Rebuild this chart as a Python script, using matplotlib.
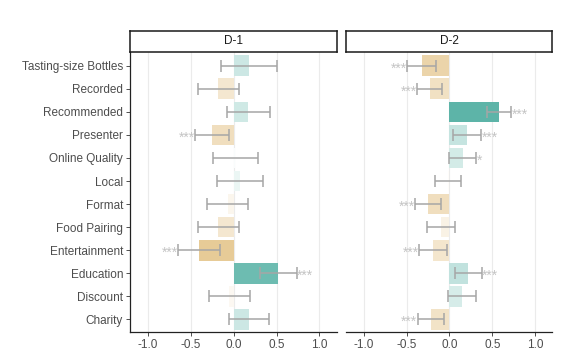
import numpy as np
import matplotlib
matplotlib.use("Agg")
import matplotlib.pyplot as plt
from matplotlib.colors import LinearSegmentedColormap, Normalize

plt.rcParams['font.family'] = ['Liberation Sans', 'DejaVu Sans']

attributes = ["Tasting-size Bottles", "Recorded", "Recommended", "Presenter",
              "Online Quality", "Local", "Format", "Food Pairing",
              "Entertainment", "Education", "Discount", "Charity"]
panels = ["D-1", "D-2"]

# estimates and half-width of the intervals, per panel
est_d1 = [0.18, -0.18, 0.17, -0.25, 0.02, 0.07, -0.07, -0.18, -0.40, 0.52, -0.05, 0.18]
err_d1 = [0.325, 0.24, 0.25, 0.20, 0.26, 0.27, 0.24, 0.24, 0.245, 0.215, 0.24, 0.235]
sig_d1 = ["", "", "", "***", "", "", "", "", "***", "***", "", ""]

est_d2 = [-0.325, -0.23, 0.58, 0.205, 0.155, -0.02, -0.25, -0.10, -0.19, 0.22, 0.15, -0.215]
err_d2 = [0.165, 0.145, 0.14, 0.165, 0.155, 0.15, 0.15, 0.16, 0.16, 0.155, 0.165, 0.155]
sig_d2 = ["***", "***", "***", "***", "*", "", "***", "", "***", "***", "", "***"]

data = [(est_d1, err_d1, sig_d1), (est_d2, err_d2, sig_d2)]

cmap = LinearSegmentedColormap.from_list("tanteal", ["#DAAE5E", "#FFFFFF", "#52AFA2"])
norm = Normalize(vmin=-0.62, vmax=0.62)

W, H = 583, 355
fig = plt.figure(figsize=(W / 100, H / 100), dpi=100)

lefts = [130, 345.7]
pw = 206.6
top, bottom = 52, 331.7
y = np.arange(len(attributes))

for i, (name, (est, err, sig)) in enumerate(zip(panels, data)):
    ax = fig.add_axes([lefts[i] / W, 1 - bottom / H, pw / W, (bottom - top) / H])
    est = np.array(est)
    err = np.array(err)
    for gx in [-1, -0.5, 0, 0.5, 1]:
        ax.axvline(gx, color="#EBEBEB", lw=0.8, zorder=0)
    ax.barh(y, est, height=0.9, color=cmap(norm(est)), zorder=1)
    ax.errorbar(est, y, xerr=err, fmt="none", ecolor="#A6A6A6", elinewidth=1.1,
                capsize=4.3, capthick=1.1, zorder=2)
    for yy, e, r, s in zip(y, est, err, sig):
        if not s:
            continue
        if e < 0:
            ax.text(e - r - 0.005, yy + 0.12, s, ha="right", va="center",
                    fontsize=10, color="#C4C4C4")
        else:
            ax.text(e + r + 0.005, yy + 0.12, s, ha="left", va="center",
                    fontsize=10, color="#C4C4C4")
    ax.set_xlim(-1.21, 1.2)
    ax.set_ylim(len(attributes) - 0.46, -0.6)
    ax.set_xticks([-1.0, -0.5, 0.0, 0.5, 1.0])
    ax.set_xticklabels(["-1.0", "-0.5", "0.0", "0.5", "1.0"])
    ax.tick_params(axis="x", labelsize=8.5, colors="#333333", labelcolor="#4D4D4D",
                   length=3, width=0.6, pad=2)
    for sp in ["top", "right"]:
        ax.spines[sp].set_visible(False)
    ax.spines["bottom"].set_linewidth(0.9)
    ax.spines["bottom"].set_color("#222222")
    if i == 0:
        ax.set_yticks(y)
        ax.set_yticklabels(attributes)
        ax.tick_params(axis="y", labelsize=8.5, colors="#333333", labelcolor="#4D4D4D",
                       length=3, width=0.6, pad=2)
        ax.spines["left"].set_linewidth(0.9)
        ax.spines["left"].set_color("#222222")
    else:
        ax.set_yticks([])
        ax.spines["left"].set_visible(False)

    # facet strip
    sax = fig.add_axes([lefts[i] / W, 1 - 51.7 / H, pw / W, 21 / H])
    sax.set_xticks([])
    sax.set_yticks([])
    for sp in sax.spines.values():
        sp.set_linewidth(1.1)
        sp.set_color("#1A1A1A")
    sax.text(0.5, 0.5, name, ha="center", va="center", fontsize=8.5, color="#1A1A1A",
             transform=sax.transAxes)

fig.savefig("out.png", dpi=100)
